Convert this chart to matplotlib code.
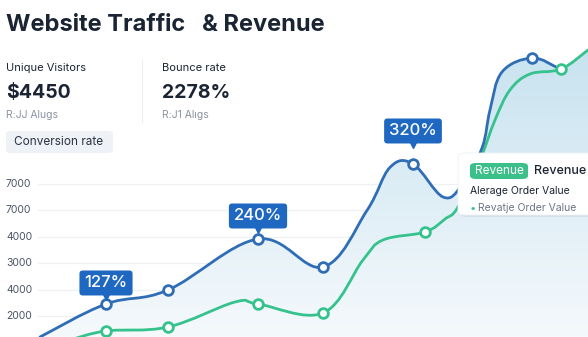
import numpy as np
import matplotlib
matplotlib.use("Agg")
import matplotlib.pyplot as plt
from matplotlib.path import Path
from matplotlib.patches import PathPatch, FancyBboxPatch, Polygon
from matplotlib.colors import LinearSegmentedColormap
from matplotlib.transforms import ScaledTranslation

plt.rcParams['font.family'] = ['Inter', 'DejaVu Sans']

# data (x in day units, y in chart units)
tick_vals = [1000, 2000, 3000, 4000, 5000, 6000]
tick_labels = ["2000", "4000", "3000", "4000", "7000", "7000"]

blue_x = [40, 106, 168, 258, 323, 367, 390, 413, 443, 462, 482, 490, 502, 532, 558]
blue_y = [205, 1455, 1985, 3917, 2856, 5000, 6630, 6758, 5508, 5962, 7364, 8803, 10242,
          10773, 10394]
blue_marks = [1, 2, 3, 4, 7, 13]

green_x = [70, 106, 168, 235, 258, 323, 363, 383, 425, 445, 458, 480, 495, 510, 530,
           561, 588]
green_y = [91, 432, 583, 1530, 1455, 1114, 3121, 3879, 4182, 4674, 5129, 6909, 8424,
           9561, 10167, 10356, 11076]
green_marks = [1, 2, 4, 5, 8, 15]

callouts = [(1, "127%"), (3, "240%"), (7, "320%")]

BLUE = "#2f6db5"
GREEN = "#36c28d"
DARK = "#1a2433"

W, H = 588, 337
fig = plt.figure(figsize=(W / 100, H / 100), dpi=100)
ax = fig.add_axes([0, 0, 1, 1])
ax.set_xlim(0, W)
ax.set_ylim(1000 - 21 / 26.4 * 1000, 1000 + 316 / 26.4 * 1000)
ax.axis("off")


def px(x, y):
    return x / W, 1 - y / H


def smooth_path(xs, ys, t=0.18):
    xs = np.asarray(xs, float)
    ys = np.asarray(ys, float) / 26.4  # roughly pixel units for the control points
    verts = [(xs[0], ys[0])]
    codes = [Path.MOVETO]
    n = len(xs)
    for i in range(n - 1):
        p0 = np.array([xs[max(i - 1, 0)], ys[max(i - 1, 0)]])
        p1 = np.array([xs[i], ys[i]])
        p2 = np.array([xs[i + 1], ys[i + 1]])
        p3 = np.array([xs[min(i + 2, n - 1)], ys[min(i + 2, n - 1)]])
        c1 = p1 + (p2 - p0) * t
        c2 = p2 - (p3 - p1) * t
        verts += [tuple(c1), tuple(c2), tuple(p2)]
        codes += [Path.CURVE4] * 3
    verts = [(vx, vy * 26.4) for vx, vy in verts]
    return Path(verts, codes)


# gridlines + y labels
for v, lab in zip(tick_vals, tick_labels):
    ax.plot([38, W], [v, v], color="#eef0f4", lw=0.9, zorder=1)
    ax.text(6, v, lab, fontsize=7.5, color="#4a5464", va="center", ha="left")

bpath = smooth_path(blue_x, blue_y)
gpath = smooth_path(green_x, green_y)

# gradient fill under the upper curve
bpoly = bpath.to_polygons(closed_only=False)[0]
gpoly = gpath.to_polygons(closed_only=False)[0]
tail = gpoly[gpoly[:, 0] > blue_x[-1]]
top = np.vstack([bpoly, tail])
ybot = ax.get_ylim()[0]
fill = np.vstack([[top[0, 0], ybot], top, [top[-1, 0], ybot]])
clip = Polygon(fill, closed=True, facecolor="none", edgecolor="none")
ax.add_patch(clip)
grad = np.linspace(0, 1, 256).reshape(-1, 1)
cmap = LinearSegmentedColormap.from_list("g", ["#f5f9fc", "#c6e2ef"])
im = ax.imshow(grad, extent=[0, W, ybot, 11500], origin="lower", cmap=cmap,
               aspect="auto", zorder=2)
im.set_clip_path(clip)

ax.add_patch(PathPatch(gpath, fill=False, edgecolor=GREEN, lw=2, zorder=4,
                       capstyle="round"))
ax.add_patch(PathPatch(bpath, fill=False, edgecolor=BLUE, lw=2, zorder=5,
                       capstyle="round"))

ax.plot([green_x[i] for i in green_marks], [green_y[i] for i in green_marks], "o",
        ms=7, mfc="white", mec=GREEN, mew=2, zorder=6, ls="none")
ax.plot([blue_x[i] for i in blue_marks], [blue_y[i] for i in blue_marks], "o",
        ms=7, mfc="white", mec=BLUE, mew=2, zorder=7, ls="none")

# callouts
offs = {1: 21, 3: 23, 7: 33}
for i, lab in callouts:
    x, y = blue_x[i], blue_y[i]
    ax.annotate(lab, (x, y), xytext=(0, offs[i] * 0.72), textcoords="offset points",
                ha="center", va="center", fontsize=12, color="white", fontweight="medium",
                bbox=dict(boxstyle="round,pad=0.3,rounding_size=0.2", fc="#1e68c2", ec="none"),
                zorder=9)
    ax.plot(x, y, marker="v", ms=6, color="#1e68c2", ls="none", zorder=8,
            transform=ax.transData + ScaledTranslation(0, (offs[i] - 13) / 100,
                                                       fig.dpi_scale_trans))

# tooltip box
sh = FancyBboxPatch(px(460, 217), 140 / W, 62 / H, boxstyle="round,pad=0,rounding_size=0.012",
                    transform=fig.transFigure, fc="#000000", alpha=0.06, ec="none", zorder=10)
fig.patches.append(sh)
tb = FancyBboxPatch(px(458, 215), 140 / W, 62 / H, boxstyle="round,pad=0,rounding_size=0.012",
                    transform=fig.transFigure, fc="white", ec="#eef0f3", lw=0.6, zorder=11)
fig.patches.append(tb)
pill = FancyBboxPatch(px(470, 179), 58 / W, 16 / H, boxstyle="round,pad=0,rounding_size=0.01",
                      transform=fig.transFigure, fc="#3cc08a", ec="none", zorder=12)
fig.patches.append(pill)
fig.text(*px(499, 171), "Revenue", fontsize=8.5, color="white", ha="center", va="center", zorder=13)
fig.text(*px(534, 171), "Revenue", fontsize=9, color=DARK, ha="left", va="center", zorder=13,
         fontweight="medium")
fig.text(*px(470, 191), "Alerage Order Value", fontsize=7.5, color=DARK, ha="left", va="center",
         zorder=13)
fig.text(*px(470, 208), "\u2022", fontsize=8, color=GREEN, ha="left", va="center", zorder=13)
fig.text(*px(478, 208), "Revatje Order Value", fontsize=7.5, color="#6b7584", ha="left",
         va="center", zorder=13)

# header
fig.text(*px(6, 25), "Website Traffic   & Revenue", fontsize=17, fontweight="bold", color=DARK,
         va="center", ha="left")
fig.text(*px(6, 68), "Unique Visitors", fontsize=8, color=DARK, va="center")
fig.text(*px(6, 93), "$4450", fontsize=14, fontweight="bold", color=DARK, va="center")
fig.text(*px(6, 115), "R:JJ Alugs", fontsize=7.5, color="#8a93a0", va="center")
fig.text(*px(162, 68), "Bounce rate", fontsize=8, color=DARK, va="center")
fig.text(*px(162, 93), "2278%", fontsize=14, fontweight="bold", color=DARK, va="center")
fig.text(*px(162, 115), "R:J1 Alıgs", fontsize=7.5, color="#8a93a0", va="center")
fig.lines.append(plt.Line2D([142 / W, 142 / W], [1 - 60 / H, 1 - 122 / H], color="#eceef2",
                            lw=0.8, transform=fig.transFigure))
cv = FancyBboxPatch(px(6, 153), 107 / W, 22 / H, boxstyle="round,pad=0,rounding_size=0.008",
                    transform=fig.transFigure, fc="#eef1f5", ec="none")
fig.patches.append(cv)
fig.text(*px(14, 142), "Conversion rate", fontsize=8.5, color="#2a3444", va="center")

fig.savefig("out.png", dpi=100)
